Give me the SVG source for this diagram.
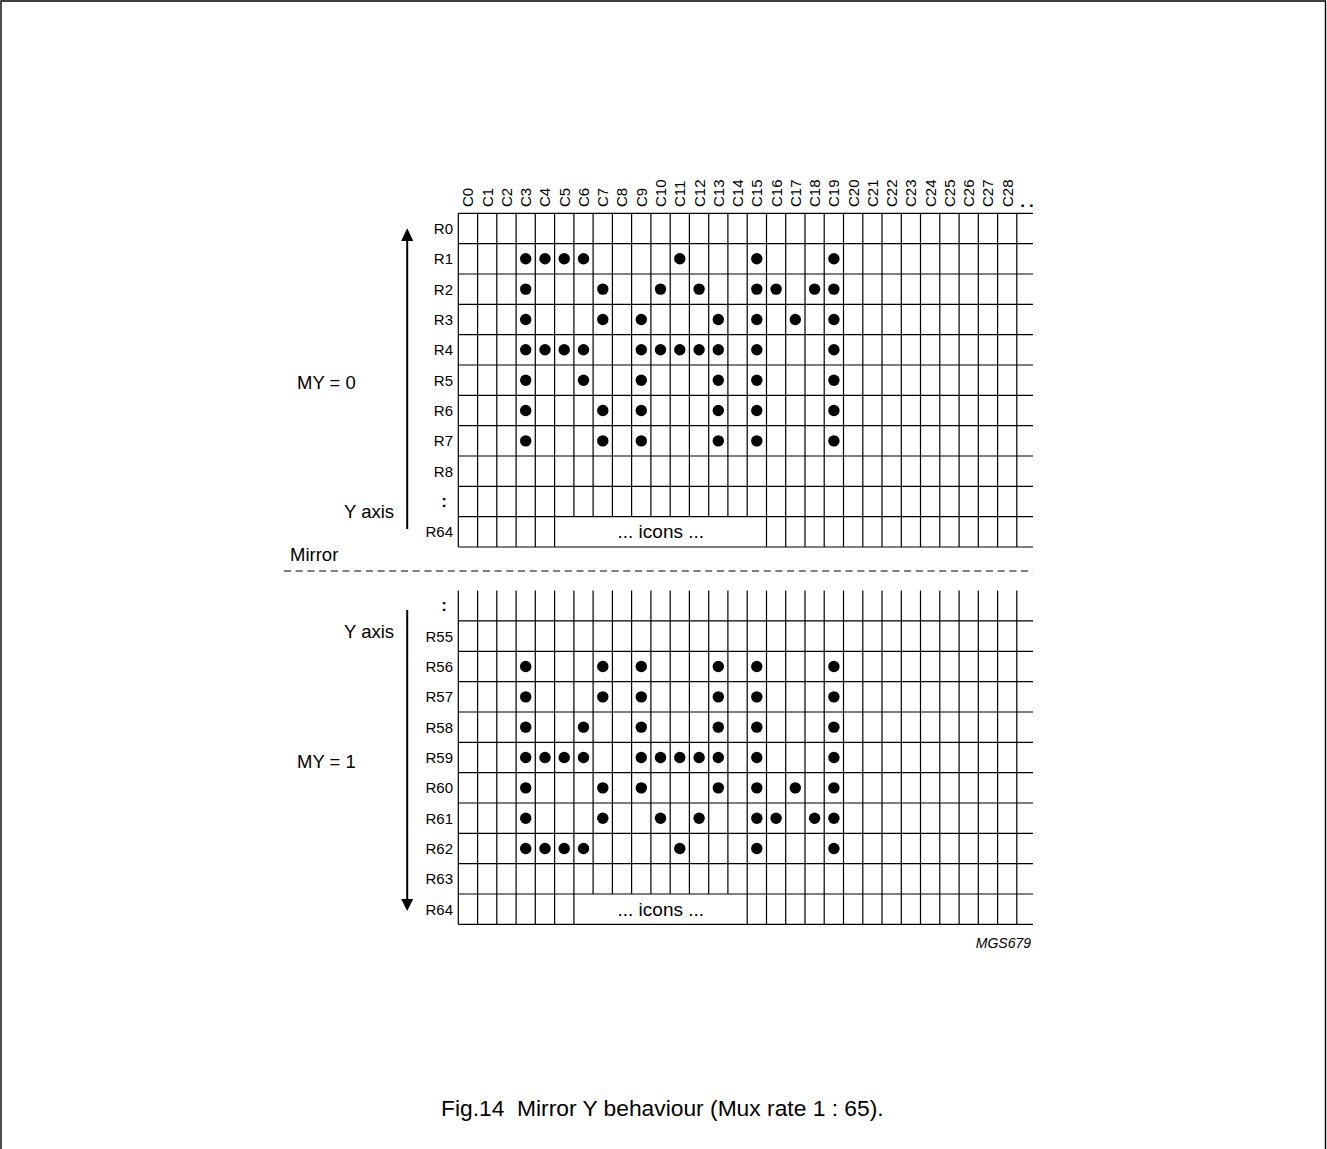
<svg xmlns="http://www.w3.org/2000/svg" xmlns:xlink="http://www.w3.org/1999/xlink" width="1327" height="1149" viewBox="0 0 1327 1149">
<style>
text{font-family:"Liberation Sans",Arial,sans-serif;fill:#000}
.rl{font-size:15px;text-anchor:end}
.cl{font-size:15px}
.big{font-size:18.5px}
.colon{font-size:17px;font-weight:bold;text-anchor:middle}
.grid{fill:none;stroke:#000;stroke-width:1.2}
.dot{fill:#000}
</style>
<defs>
<g id="glyph">
<circle class="dot" cx="525.7" cy="258.8" r="5.7"/><circle class="dot" cx="545.0" cy="258.8" r="5.7"/><circle class="dot" cx="564.2" cy="258.8" r="5.7"/><circle class="dot" cx="583.5" cy="258.8" r="5.7"/><circle class="dot" cx="679.8" cy="258.8" r="5.7"/><circle class="dot" cx="756.8" cy="258.8" r="5.7"/><circle class="dot" cx="833.9" cy="258.8" r="5.7"/>
<circle class="dot" cx="525.7" cy="289.1" r="5.7"/><circle class="dot" cx="602.8" cy="289.1" r="5.7"/><circle class="dot" cx="660.5" cy="289.1" r="5.7"/><circle class="dot" cx="699.1" cy="289.1" r="5.7"/><circle class="dot" cx="756.8" cy="289.1" r="5.7"/><circle class="dot" cx="776.1" cy="289.1" r="5.7"/><circle class="dot" cx="814.6" cy="289.1" r="5.7"/><circle class="dot" cx="833.9" cy="289.1" r="5.7"/>
<circle class="dot" cx="525.7" cy="319.5" r="5.7"/><circle class="dot" cx="602.8" cy="319.5" r="5.7"/><circle class="dot" cx="641.3" cy="319.5" r="5.7"/><circle class="dot" cx="718.3" cy="319.5" r="5.7"/><circle class="dot" cx="756.8" cy="319.5" r="5.7"/><circle class="dot" cx="795.3" cy="319.5" r="5.7"/><circle class="dot" cx="833.9" cy="319.5" r="5.7"/>
<circle class="dot" cx="525.7" cy="349.8" r="5.7"/><circle class="dot" cx="545.0" cy="349.8" r="5.7"/><circle class="dot" cx="564.2" cy="349.8" r="5.7"/><circle class="dot" cx="583.5" cy="349.8" r="5.7"/><circle class="dot" cx="641.3" cy="349.8" r="5.7"/><circle class="dot" cx="660.5" cy="349.8" r="5.7"/><circle class="dot" cx="679.8" cy="349.8" r="5.7"/><circle class="dot" cx="699.1" cy="349.8" r="5.7"/><circle class="dot" cx="718.3" cy="349.8" r="5.7"/><circle class="dot" cx="756.8" cy="349.8" r="5.7"/><circle class="dot" cx="833.9" cy="349.8" r="5.7"/>
<circle class="dot" cx="525.7" cy="380.2" r="5.7"/><circle class="dot" cx="583.5" cy="380.2" r="5.7"/><circle class="dot" cx="641.3" cy="380.2" r="5.7"/><circle class="dot" cx="718.3" cy="380.2" r="5.7"/><circle class="dot" cx="756.8" cy="380.2" r="5.7"/><circle class="dot" cx="833.9" cy="380.2" r="5.7"/>
<circle class="dot" cx="525.7" cy="410.5" r="5.7"/><circle class="dot" cx="602.8" cy="410.5" r="5.7"/><circle class="dot" cx="641.3" cy="410.5" r="5.7"/><circle class="dot" cx="718.3" cy="410.5" r="5.7"/><circle class="dot" cx="756.8" cy="410.5" r="5.7"/><circle class="dot" cx="833.9" cy="410.5" r="5.7"/>
<circle class="dot" cx="525.7" cy="440.9" r="5.7"/><circle class="dot" cx="602.8" cy="440.9" r="5.7"/><circle class="dot" cx="641.3" cy="440.9" r="5.7"/><circle class="dot" cx="718.3" cy="440.9" r="5.7"/><circle class="dot" cx="756.8" cy="440.9" r="5.7"/><circle class="dot" cx="833.9" cy="440.9" r="5.7"/>
</g>
</defs>

<path d="M1,1149 V1 H1325.5 V1149" fill="none" stroke="#000" stroke-width="1.4"/>

<g id="top-grid">
<path class="grid" d="M458.3,213.3 H1033 M458.3,243.6 H1033 M458.3,274.0 H1033 M458.3,304.3 H1033 M458.3,334.7 H1033 M458.3,365.0 H1033 M458.3,395.3 H1033 M458.3,425.7 H1033 M458.3,456.0 H1033 M458.3,486.4 H1033 M458.3,516.7 H1033 M458.3,547.0 H1033
M458.3,213.3 V547 M477.6,213.3 V547 M496.8,213.3 V547 M516.1,213.3 V547 M535.3,213.3 V547 M554.6,213.3 V547
M573.9,213.3 V516.7 M593.1,213.3 V516.7 M612.4,213.3 V516.7 M631.6,213.3 V516.7 M650.9,213.3 V516.7 M670.2,213.3 V516.7 M689.4,213.3 V516.7 M708.7,213.3 V516.7 M727.9,213.3 V516.7 M747.2,213.3 V516.7
M766.5,213.3 V547 M785.7,213.3 V547 M805.0,213.3 V547 M824.2,213.3 V547 M843.5,213.3 V547 M862.8,213.3 V547 M882.0,213.3 V547 M901.3,213.3 V547 M920.5,213.3 V547 M939.8,213.3 V547 M959.1,213.3 V547 M978.3,213.3 V547 M997.6,213.3 V547 M1016.8,213.3 V547"/>
<use xlink:href="#glyph" href="#glyph"/>
<text x="660.8" y="538" text-anchor="middle" style="font-size:19px">... icons ...</text>
</g>

<g id="column-labels" class="cl">
<text transform="translate(473.3,207) rotate(-90)">C0</text>
<text transform="translate(492.6,207) rotate(-90)">C1</text>
<text transform="translate(511.9,207) rotate(-90)">C2</text>
<text transform="translate(531.1,207) rotate(-90)">C3</text>
<text transform="translate(550.4,207) rotate(-90)">C4</text>
<text transform="translate(569.6,207) rotate(-90)">C5</text>
<text transform="translate(588.9,207) rotate(-90)">C6</text>
<text transform="translate(608.2,207) rotate(-90)">C7</text>
<text transform="translate(627.4,207) rotate(-90)">C8</text>
<text transform="translate(646.7,207) rotate(-90)">C9</text>
<text transform="translate(665.9,207) rotate(-90)">C10</text>
<text transform="translate(685.2,207) rotate(-90)">C11</text>
<text transform="translate(704.5,207) rotate(-90)">C12</text>
<text transform="translate(723.7,207) rotate(-90)">C13</text>
<text transform="translate(743.0,207) rotate(-90)">C14</text>
<text transform="translate(762.2,207) rotate(-90)">C15</text>
<text transform="translate(781.5,207) rotate(-90)">C16</text>
<text transform="translate(800.7,207) rotate(-90)">C17</text>
<text transform="translate(820.0,207) rotate(-90)">C18</text>
<text transform="translate(839.3,207) rotate(-90)">C19</text>
<text transform="translate(858.5,207) rotate(-90)">C20</text>
<text transform="translate(877.8,207) rotate(-90)">C21</text>
<text transform="translate(897.0,207) rotate(-90)">C22</text>
<text transform="translate(916.3,207) rotate(-90)">C23</text>
<text transform="translate(935.6,207) rotate(-90)">C24</text>
<text transform="translate(954.8,207) rotate(-90)">C25</text>
<text transform="translate(974.1,207) rotate(-90)">C26</text>
<text transform="translate(993.3,207) rotate(-90)">C27</text>
<text transform="translate(1012.6,207) rotate(-90)">C28</text>
<text x="1020.3" y="207" style="font-weight:bold;font-size:17px;letter-spacing:4px">..</text>
</g>

<g id="top-row-labels" class="rl">
<text x="453" y="233.9">R0</text>
<text x="453" y="264.2">R1</text>
<text x="453" y="294.5">R2</text>
<text x="453" y="324.9">R3</text>
<text x="453" y="355.2">R4</text>
<text x="453" y="385.6">R5</text>
<text x="453" y="415.9">R6</text>
<text x="453" y="446.3">R7</text>
<text x="453" y="476.6">R8</text>
<text class="colon" x="444" y="507">:</text>
<text x="453" y="537.3">R64</text>
</g>

<g id="bottom-grid">
<path class="grid" d="M458.3,620.9 H1033 M458.3,651.3 H1033 M458.3,681.6 H1033 M458.3,712.0 H1033 M458.3,742.3 H1033 M458.3,772.6 H1033 M458.3,803.0 H1033 M458.3,833.3 H1033 M458.3,863.7 H1033 M458.3,894.0 H1033 M458.3,924.3 H1033
M458.3,590.6 V924.3 M477.6,590.6 V924.3 M496.8,590.6 V924.3 M516.1,590.6 V924.3 M535.3,590.6 V924.3 M554.6,590.6 V924.3 M573.9,590.6 V924.3
M593.1,590.6 V894 M612.4,590.6 V894 M631.6,590.6 V894 M650.9,590.6 V894 M670.2,590.6 V894 M689.4,590.6 V894 M708.7,590.6 V894 M727.9,590.6 V894
M747.2,590.6 V924.3 M766.5,590.6 V924.3 M785.7,590.6 V924.3 M805.0,590.6 V924.3 M824.2,590.6 V924.3 M843.5,590.6 V924.3 M862.8,590.6 V924.3 M882.0,590.6 V924.3 M901.3,590.6 V924.3 M920.5,590.6 V924.3 M939.8,590.6 V924.3 M959.1,590.6 V924.3 M978.3,590.6 V924.3 M997.6,590.6 V924.3 M1016.8,590.6 V924.3"/>
<use xlink:href="#glyph" href="#glyph" transform="matrix(1,0,0,-1,0,1107.35)"/>
<text x="660.8" y="916" text-anchor="middle" style="font-size:19px">... icons ...</text>
</g>

<g id="bottom-row-labels" class="rl">
<text class="colon" x="444" y="611.2">:</text>
<text x="453" y="641.5">R55</text>
<text x="453" y="671.9">R56</text>
<text x="453" y="702.2">R57</text>
<text x="453" y="732.5">R58</text>
<text x="453" y="762.9">R59</text>
<text x="453" y="793.2">R60</text>
<text x="453" y="823.6">R61</text>
<text x="453" y="853.9">R62</text>
<text x="453" y="884.2">R63</text>
<text x="453" y="914.6">R64</text>
</g>

<g id="connectors">
<line x1="407.2" y1="529" x2="407.2" y2="240" stroke="#000" stroke-width="2"/>
<polygon points="407.2,228.3 401.2,241 413.2,241" fill="#000"/>
<line x1="407.2" y1="610" x2="407.2" y2="900" stroke="#000" stroke-width="2"/>
<polygon points="407.2,911 401.2,899 413.2,899" fill="#000"/>
<line x1="284" y1="571" x2="1033" y2="571" stroke="#000" stroke-width="1.2" stroke-dasharray="7 4.7"/>
</g>

<g id="labels" class="big">
<text x="297" y="389">MY = 0</text>
<text x="344" y="518">Y axis</text>
<text x="290" y="561">Mirror</text>
<text x="344" y="638">Y axis</text>
<text x="297" y="768">MY = 1</text>
</g>

<text x="1031" y="948" text-anchor="end" style="font-size:14px;font-style:italic">MGS679</text>
<text x="441" y="1116" xml:space="preserve" style="font-size:22.8px;white-space:pre">Fig.14  Mirror Y behaviour (Mux rate 1 : 65).</text>
</svg>
